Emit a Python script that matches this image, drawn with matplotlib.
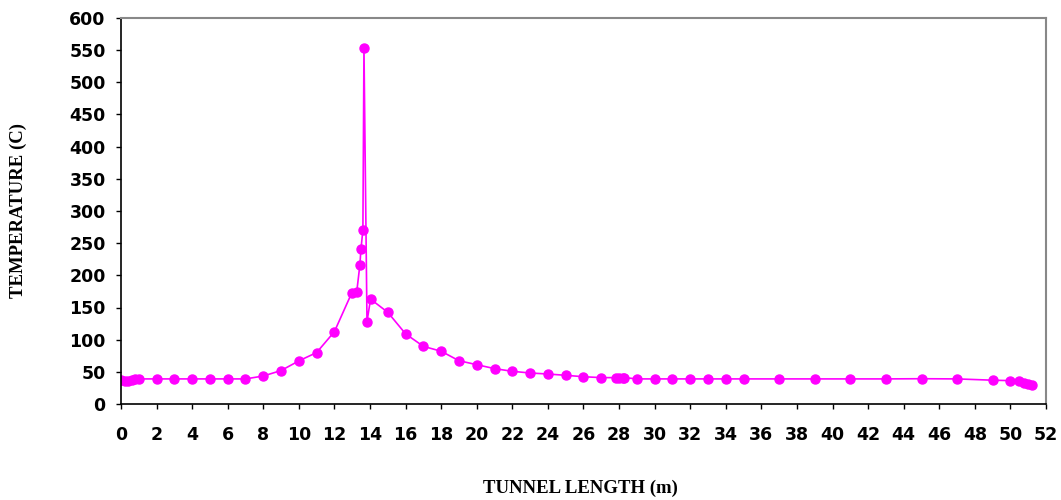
import matplotlib
matplotlib.use("Agg")
import matplotlib.pyplot as plt

# tunnel length (m) and measured temperature (C)
length = [0, 0.2, 0.4, 0.6, 0.8, 1.0, 2, 3, 4, 5, 6, 7, 8, 9, 10, 11, 12,
          12.97, 13.25, 13.43, 13.49, 13.6, 13.66, 13.83, 14.03,
          15, 16, 17, 18, 19, 20, 21, 22, 23, 24, 25, 26, 27,
          27.8, 28.0, 28.2, 28.3, 29, 30, 31, 32, 33, 34, 35, 37, 39, 41, 43, 45,
          47, 49, 50, 50.5, 50.75, 51.0, 51.2]
temp = [37, 36.5, 36, 37, 38.5, 39, 39, 39, 39, 39, 39, 39, 43.5, 52, 67, 80, 112.5,
        172.5, 173.5, 216, 240.5, 270.5, 553, 128, 163,
        142.5, 109, 89.6, 82, 67.3, 61.1, 55, 50.8, 48.2, 46.6, 44.6, 42.4, 41,
        41, 41, 41, 41, 39, 39, 39, 39, 39, 39, 39, 39, 39, 39, 39, 39.3,
        39, 37, 36.3, 35.3, 33, 31, 29.5]

xticks = list(range(0, 53, 2))
yticks = list(range(0, 601, 50))

fig = plt.figure(figsize=(10.61, 5.0), dpi=100)
ax = fig.add_axes([0.114, 0.192, 0.8719, 0.772])

ax.plot(length, temp, color='#ff00ff', lw=1.2, marker='o', ms=6.5,
        markerfacecolor='#ff00ff', markeredgecolor='#ff00ff')

ax.set_xlim(0, 52)
ax.set_ylim(0, 600)
ax.set_xticks(xticks)
ax.set_yticks(yticks)
ax.tick_params(direction='out', length=3.6, width=1, colors='black')
ax.tick_params(axis='x', pad=12)
ax.tick_params(axis='y', pad=7.4)
for lab in ax.get_xticklabels() + ax.get_yticklabels():
    lab.set_fontfamily('DejaVu Sans')
    lab.set_fontweight('bold')
    lab.set_fontsize(12.5)

for s in ['top', 'right']:
    ax.spines[s].set_color('#888888')
    ax.spines[s].set_linewidth(1.5)
for s in ['left', 'bottom']:
    ax.spines[s].set_color('black')
    ax.spines[s].set_linewidth(1.2)

lab_font = dict(family='Liberation Serif', fontweight='bold', fontsize=13.5)
fig.text(0.547, 0.024, 'TUNNEL LENGTH (m)', ha='center', va='center', **lab_font)
fig.text(0.017, 0.578, 'TEMPERATURE (C)', ha='center', va='center',
         rotation=90, **lab_font)

fig.savefig('out.png', dpi=100)
